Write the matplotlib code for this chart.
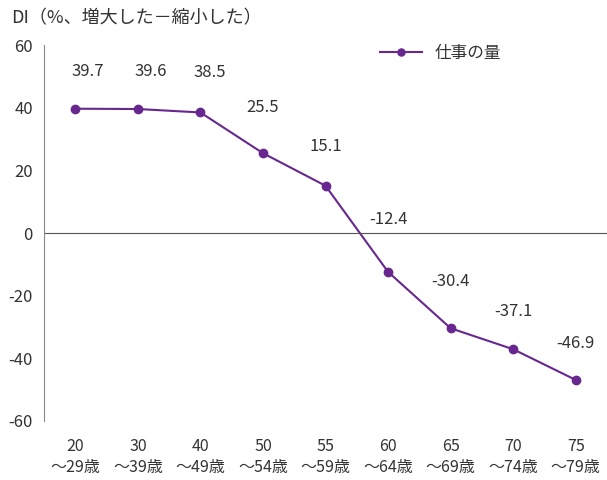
import matplotlib.pyplot as plt

plt.rcParams['font.family'] = ['Noto Sans CJK JP', 'DejaVu Sans']
plt.rcParams['axes.unicode_minus'] = False

# データ
edades = ['20\n～29歳', '30\n～39歳', '40\n～49歳', '50\n～54歳', '55\n～59歳',
          '60\n～64歳', '65\n～69歳', '70\n～74歳', '75\n～79歳']
valores = [39.7, 39.6, 38.5, 25.5, 15.1, -12.4, -30.4, -37.1, -46.9]
serie = '仕事の量'

morado = '#67278f'
gris = '#333333'

fig = plt.figure(figsize=(6.07, 4.8), dpi=100)
ax = fig.add_axes([0.0725, 0.123, 0.9275, 0.783])

x = list(range(len(edades)))
ax.plot(x, valores, color=morado, marker='o', markersize=6, linewidth=1.5, label=serie)

# etiquetas de valores (desplazamiento en puntos)
dx = [9, 9, 7, 0, 0, 0, 0, 0, 0]
dy = [27, 27, 29, 33, 28, 38, 34, 27, 26]
for i, v in enumerate(valores):
    ax.annotate(f'{v:.1f}', (i, v), xytext=(dx[i], dy[i]), textcoords='offset points',
                ha='center', va='center', fontsize=12, color=gris)

ax.axhline(0, color='#555555', linewidth=0.8)
ax.set_xlim(-0.5, len(edades) - 0.5)
ax.set_ylim(-60, 60)
ax.set_yticks(range(-60, 61, 20))
ax.set_xticks(x)
ax.set_xticklabels(edades, fontsize=11.5, color=gris, linespacing=1.3)
ax.tick_params(axis='y', length=0, labelsize=12, labelcolor=gris, pad=8)
ax.tick_params(axis='x', length=0, pad=12)

for lado in ['top', 'right', 'bottom']:
    ax.spines[lado].set_visible(False)
ax.spines['left'].set_color('#888888')
ax.spines['left'].set_linewidth(0.8)

fig.text(0.018, 0.962, 'DI（%、増大した－縮小した）', fontsize=13, color=gris, va='center')

ax.legend(loc='upper left', bbox_to_anchor=(0.57, 1.04), frameon=False, fontsize=12,
          handlelength=2.5, labelcolor=gris, markerscale=0.85)

fig.savefig('out.png', dpi=100)
